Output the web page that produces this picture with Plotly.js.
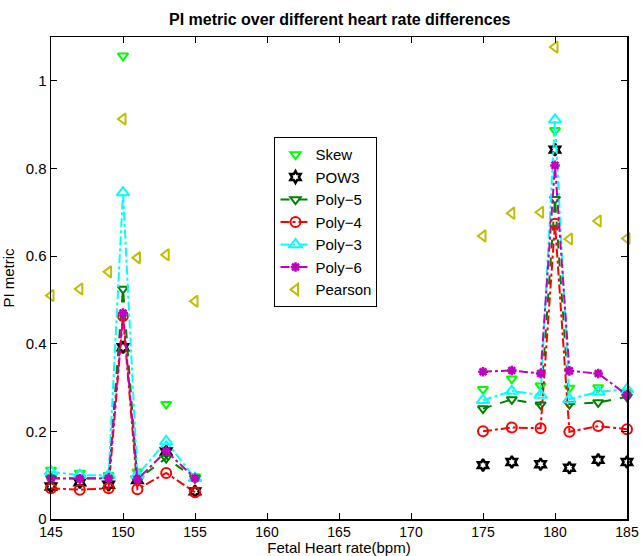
<!DOCTYPE html>
<html><head><meta charset="utf-8">
<script src="https://cdn.plot.ly/plotly-3.0.1.min.js"></script>
<style>html,body{margin:0;padding:0;background:#fff}#c{width:641px;height:556px}</style>
</head><body><div id="c"></div>
<script>
const xVals = [145,147,149,150,151,153,155,null,175,177,179,180,181,183,185];
const skew    = [0.112,0.105,0.100,1.057,0.108,0.262,0.097,null,0.296,0.320,0.304,0.887,0.299,0.300,0.290];
const pow3    = [0.074,0.084,0.078,0.392,0.089,0.154,0.063,null,0.123,0.130,0.125,0.843,0.117,0.135,0.130];
const poly5   = [0.093,0.093,0.093,0.525,0.090,0.139,0.093,null,0.252,0.273,0.261,0.730,0.262,0.266,0.279];
const poly4   = [0.070,0.067,0.070,0.463,0.068,0.105,0.061,null,0.200,0.209,0.207,0.674,0.199,0.212,0.205];
const poly3   = [0.108,0.100,0.100,0.745,0.100,0.177,0.093,null,0.271,0.292,0.283,0.911,0.273,0.290,0.296];
const poly6   = [0.093,0.092,0.093,0.470,0.090,0.155,0.093,null,0.336,0.339,0.332,0.807,0.338,0.332,0.283];
const pearson = [0.510,0.525,0.564,0.913,0.596,0.603,0.497,null,0.646,0.698,0.700,1.077,0.639,0.680,0.640];

const traces = [
  {name:'Skew', y:skew, mode:'markers', marker:{symbol:'triangle-down-open', color:'#00ff00', size:9, line:{width:2}}},
  {name:'POW3', y:pow3, mode:'markers', marker:{symbol:'hexagram-open', color:'#000000', size:9, line:{width:2.5}}},
  {name:'Poly\u22125', y:poly5, mode:'lines+markers', line:{color:'#007f00', dash:'dash', width:2}, marker:{symbol:'triangle-down-open', color:'#007f00', size:9, line:{width:2}}},
  {name:'Poly\u22124', y:poly4, mode:'lines+markers', line:{color:'#ff0000', dash:'dashdot', width:2}, marker:{symbol:'circle-open', color:'#ff0000', size:10, line:{width:2}}},
  {name:'Poly\u22123', y:poly3, mode:'lines+markers', line:{color:'#00ffff', dash:'dashdot', width:2}, marker:{symbol:'triangle-up-open', color:'#00ffff', size:11, line:{width:2}}},
  {name:'Poly\u22126', y:poly6, mode:'lines+markers', line:{color:'#bf00bf', dash:'dashdot', width:2}, marker:{symbol:'asterisk-open', color:'#bf00bf', size:8, line:{width:2.5, color:'#bf00bf'}}},
  {name:'Pearson', y:pearson, mode:'markers', marker:{symbol:'triangle-left-open', color:'#bfbf00', size:10, line:{width:2}}}
].map(t => Object.assign({x:xVals, type:'scatter', connectgaps:false, cliponaxis:false}, t));

const layout = {
  width:641, height:556,
  margin:{l:51, r:14, t:37, b:37},
  paper_bgcolor:'#fff', plot_bgcolor:'#fff',
  font:{family:'Liberation Sans, Arial, sans-serif', size:15, color:'#000'},
  title:{text:'<b>PI metric over different heart rate differences</b>', x:0.53, xanchor:'center', y:0.965, yanchor:'middle', font:{size:16}},
  xaxis:{range:[145,185], tickvals:[145,150,155,160,165,170,175,180,185], ticks:'inside', ticklen:6, tickcolor:'#000',
    showline:true, mirror:'ticks', linecolor:'#000', linewidth:1.5, showgrid:false, zeroline:false,
    tickfont:{size:14}, ticklabelstandoff:0,
    title:{text:'Fetal Heart rate(bpm)', standoff:2, font:{size:15}}},
  yaxis:{range:[0,1.1], tickvals:[0,0.2,0.4,0.6,0.8,1], ticktext:['0','0.2','0.4','0.6','0.8','1'], ticks:'inside', ticklen:6, tickcolor:'#000',
    showline:true, mirror:'ticks', linecolor:'#000', linewidth:1.5, showgrid:false, zeroline:false,
    tickfont:{size:15},
    title:{text:'PI metric', standoff:10, font:{size:15}}},
  showlegend:true,
  legend:{x:0.388, y:0.792, xanchor:'left', yanchor:'top', bgcolor:'#fff', bordercolor:'#000', borderwidth:1,
    font:{size:15}, tracegroupgap:0, itemwidth:30}
};
Plotly.newPlot('c', traces, layout, {displayModeBar:false, staticPlot:true});
</script></body></html>
